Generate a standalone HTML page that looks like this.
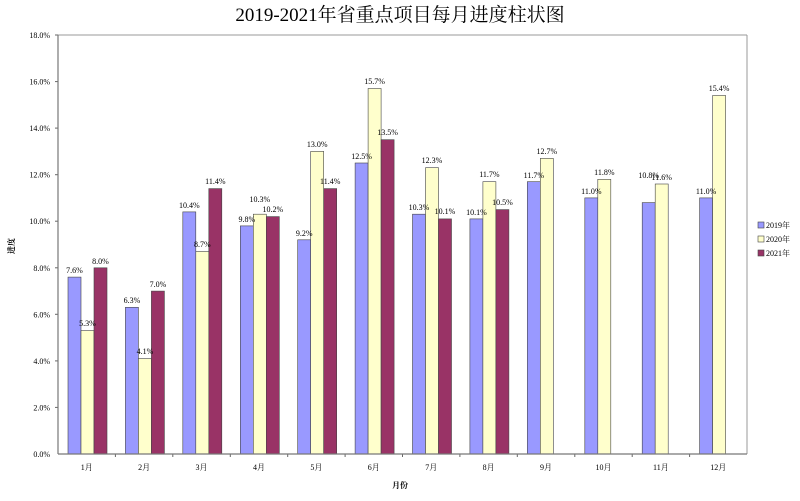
<!DOCTYPE html>
<html><head><meta charset="utf-8"><style>body{margin:0;background:#fff}</style></head><body>
<svg width="800" height="496" xmlns="http://www.w3.org/2000/svg" font-family="'Liberation Serif','Noto Serif CJK SC',serif">
<text x="400" y="21" text-anchor="middle" font-size="19" fill="#000">2019-2021年省重点项目每月进度柱状图</text>
<line x1="58" y1="35" x2="747" y2="35" stroke="#999"/><line x1="747" y1="35" x2="747" y2="454" stroke="#999"/>
<g font-size="8" text-anchor="end">
<text x="50" y="457">0.0%</text><text x="50" y="410.4">2.0%</text><text x="50" y="363.9">4.0%</text><text x="50" y="317.3">6.0%</text><text x="50" y="270.8">8.0%</text><text x="50" y="224.2">10.0%</text><text x="50" y="177.7">12.0%</text><text x="50" y="131.1">14.0%</text><text x="50" y="84.6">16.0%</text><text x="50" y="38">18.0%</text>
</g>
<g stroke="#666">
<line x1="55" y1="407.4" x2="58" y2="407.4"/><line x1="55" y1="360.9" x2="58" y2="360.9"/><line x1="55" y1="314.3" x2="58" y2="314.3"/><line x1="55" y1="267.8" x2="58" y2="267.8"/><line x1="55" y1="221.2" x2="58" y2="221.2"/><line x1="55" y1="174.7" x2="58" y2="174.7"/><line x1="55" y1="128.1" x2="58" y2="128.1"/><line x1="55" y1="81.6" x2="58" y2="81.6"/><line x1="55" y1="35" x2="58" y2="35"/>
<line x1="115.4" y1="454" x2="115.4" y2="457"/><line x1="172.8" y1="454" x2="172.8" y2="457"/><line x1="230.3" y1="454" x2="230.3" y2="457"/><line x1="287.7" y1="454" x2="287.7" y2="457"/><line x1="345.1" y1="454" x2="345.1" y2="457"/><line x1="402.5" y1="454" x2="402.5" y2="457"/><line x1="459.9" y1="454" x2="459.9" y2="457"/><line x1="517.3" y1="454" x2="517.3" y2="457"/><line x1="574.8" y1="454" x2="574.8" y2="457"/><line x1="632.2" y1="454" x2="632.2" y2="457"/><line x1="689.6" y1="454" x2="689.6" y2="457"/>
</g>
<g fill="#9999ff" stroke="#444" stroke-width="0.6">
<rect x="68" y="277.1" width="13" height="176.9"/><rect x="125.4" y="307.3" width="13" height="146.7"/><rect x="182.8" y="211.9" width="13" height="242.1"/><rect x="240.3" y="225.9" width="13" height="228.1"/><rect x="297.7" y="239.8" width="13" height="214.2"/><rect x="355.1" y="163" width="13" height="291"/><rect x="412.5" y="214.2" width="13" height="239.8"/><rect x="469.9" y="218.9" width="13" height="235.1"/><rect x="527.3" y="181.7" width="13" height="272.3"/><rect x="584.8" y="197.9" width="13" height="256.1"/><rect x="642.2" y="202.6" width="13" height="251.4"/><rect x="699.6" y="197.9" width="13" height="256.1"/>
</g>
<g fill="#ffffcc" stroke="#444" stroke-width="0.6">
<rect x="81" y="330.6" width="13" height="123.4"/><rect x="138.4" y="358.6" width="13" height="95.4"/><rect x="195.8" y="251.5" width="13" height="202.5"/><rect x="253.3" y="214.2" width="13" height="239.8"/><rect x="310.7" y="151.4" width="13" height="302.6"/><rect x="368.1" y="88.5" width="13" height="365.5"/><rect x="425.5" y="167.7" width="13" height="286.3"/><rect x="482.9" y="181.7" width="13" height="272.3"/><rect x="540.3" y="158.4" width="13" height="295.6"/><rect x="597.8" y="179.3" width="13" height="274.7"/><rect x="655.2" y="184" width="13" height="270"/><rect x="712.6" y="95.5" width="13" height="358.5"/>
</g>
<g fill="#993366" stroke="#444" stroke-width="0.6">
<rect x="94" y="267.8" width="13" height="186.2"/><rect x="151.4" y="291.1" width="13" height="162.9"/><rect x="208.8" y="188.6" width="13" height="265.4"/><rect x="266.3" y="216.6" width="13" height="237.4"/><rect x="323.7" y="188.6" width="13" height="265.4"/><rect x="381.1" y="139.7" width="13" height="314.3"/><rect x="438.5" y="218.9" width="13" height="235.1"/><rect x="495.9" y="209.6" width="13" height="244.4"/>
</g>
<g font-size="8" text-anchor="middle">
<text x="74.5" y="273">7.6%</text><text x="131.9" y="303">6.3%</text><text x="189.3" y="208">10.4%</text><text x="246.8" y="222">9.8%</text><text x="304.2" y="236">9.2%</text><text x="361.6" y="159">12.5%</text><text x="419" y="210">10.3%</text><text x="476.4" y="215">10.1%</text><text x="533.8" y="178">11.7%</text><text x="591.3" y="194">11.0%</text><text x="648.7" y="178">10.8%</text><text x="706.1" y="194">11.0%</text>
<text x="87.5" y="326">5.3%</text><text x="144.9" y="354">4.1%</text><text x="202.3" y="247">8.7%</text><text x="259.8" y="202">10.3%</text><text x="317.2" y="147">13.0%</text><text x="374.6" y="84">15.7%</text><text x="432" y="163">12.3%</text><text x="489.4" y="177">11.7%</text><text x="546.8" y="154">12.7%</text><text x="604.3" y="175">11.8%</text><text x="661.7" y="180">11.6%</text><text x="719.1" y="91">15.4%</text>
<text x="100.5" y="264">8.0%</text><text x="157.9" y="287">7.0%</text><text x="215.3" y="184">11.4%</text><text x="272.8" y="212">10.2%</text><text x="330.2" y="184">11.4%</text><text x="387.6" y="135">13.5%</text><text x="445" y="214">10.1%</text><text x="502.4" y="205">10.5%</text>
<text x="86.7" y="470">1月</text><text x="144.1" y="470">2月</text><text x="201.5" y="470">3月</text><text x="259" y="470">4月</text><text x="316.4" y="470">5月</text><text x="373.8" y="470">6月</text><text x="431.2" y="470">7月</text><text x="488.6" y="470">8月</text><text x="546" y="470">9月</text><text x="603.5" y="470">10月</text><text x="660.9" y="470">11月</text><text x="718.3" y="470">12月</text>
<text x="400" y="488" font-weight="bold">月份</text>
<text transform="translate(14,246) rotate(-90)" font-weight="bold">进度</text>
</g>
<line x1="58" y1="35" x2="58" y2="454" stroke="#777" stroke-width="1.2"/><line x1="58" y1="454" x2="747" y2="454" stroke="#777" stroke-width="1.2"/>
<g font-size="8" stroke-width="0.6">
<rect x="758" y="222" width="6" height="6" fill="#9999ff" stroke="#444"/><text x="766" y="228">2019年</text>
<rect x="758" y="236" width="6" height="6" fill="#ffffcc" stroke="#444"/><text x="766" y="242">2020年</text>
<rect x="758" y="250" width="6" height="6" fill="#993366" stroke="#444"/><text x="766" y="256">2021年</text>
</g>
</svg>
</body></html>
